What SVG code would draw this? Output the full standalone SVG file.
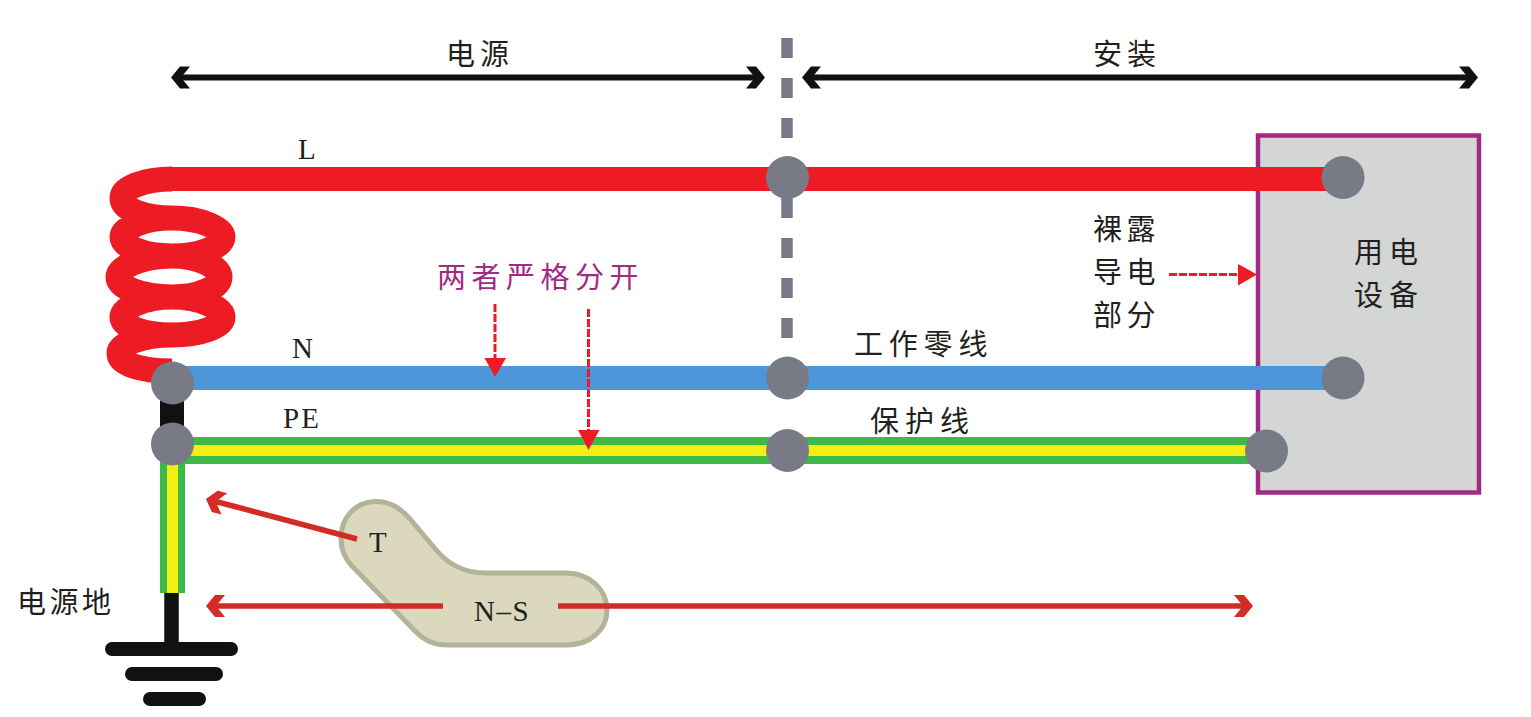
<svg xmlns="http://www.w3.org/2000/svg" width="1531" height="717" viewBox="0 0 1531 717">
<style>
.t{font-family:"Noto Sans CJK SC","Liberation Sans",sans-serif;font-size:29px;fill:#231f20}
.l{font-family:"Liberation Serif",serif;font-size:29px;fill:#231f20}
.dot{fill:#787a85}
.blk{stroke:#111;stroke-width:6;fill:none}
.dash{stroke:#ed1c24;stroke-width:3;fill:none;stroke-dasharray:8 2}
.rd{stroke:#d42b27;stroke-width:5.500;fill:none}
.hb{fill:#111}.hr{fill:#d42b27}.hd{fill:#ed1c24}
</style>
<defs>
<path id="chev" d="M0 0L-9 11L-19 11L-10 0L-19 -11L-9 -11Z"/>
</defs>
<g id="device">
<rect x="1258" y="135.5" width="221" height="357" fill="#d4d5d5" stroke="#a32a82" stroke-width="4.5"/>
<text class="t" x="1354" y="263" letter-spacing="6">用电</text>
<text class="t" x="1354" y="306" letter-spacing="6">设备</text>
</g>
<g id="connectors">
<path id="separator" d="M787 38V338" stroke="#787a85" stroke-width="11.5" stroke-dasharray="20 20" fill="none"/>
<path id="coil" fill="none" stroke="#ed1c24" stroke-width="25" d="M172 179C144 179 122 188 122 198C122 210 145 218 172 218C202 218 223 229 223 237C223 246 202 256 172 256C142 256 122 246 122 237C122 229 142 218 172 218M172 256C140 256 118 268 118 277C118 287 140 297 172 297C200 297 220 287 220 277C220 268 200 256 172 256M172 297C142 297 122 309 122 317C122 326 142 335 172 335C202 335 223 326 223 317C223 309 202 297 172 297M172 335C140 335 119 345 119 353C119 364 140 371 172 371"/>
<path id="wire-L" d="M172 179H1343" stroke="#ed1c24" stroke-width="24" fill="none"/>
<path id="wire-N" d="M172 378H1343" stroke="#4d96d9" stroke-width="24" fill="none"/>
<path id="wire-black" d="M172 383V444" stroke="#111" stroke-width="24" fill="none"/>
<g id="wire-PE" fill="none">
<path d="M172 450.500H1266" stroke="#3db94a" stroke-width="27"/>
<path d="M172 450.500H1266" stroke="#f5ee12" stroke-width="11"/>
</g>
<g id="wire-PE-down" fill="none">
<path d="M172.500 444V593" stroke="#3db94a" stroke-width="25"/>
<path d="M172.500 444V593" stroke="#f5ee12" stroke-width="11"/>
</g>
<path id="wire-ground" d="M171.500 593V646" stroke="#111" stroke-width="14.500" fill="none"/>
</g>
<g id="ground" class="hb">
<rect x="105" y="642" width="133" height="14" rx="7"/>
<rect x="125" y="667" width="98" height="14" rx="7"/>
<rect x="143" y="692" width="63" height="14" rx="7"/>
</g>
<g id="nodes">
<circle id="n1" class="dot" cx="172.500" cy="383" r="21.500"/>
<circle id="n2" class="dot" cx="172.500" cy="444" r="21.500"/>
<circle id="n3" class="dot" cx="787.500" cy="177.500" r="21.500"/>
<circle id="n4" class="dot" cx="787.500" cy="378" r="21.500"/>
<circle id="n5" class="dot" cx="787.500" cy="450.500" r="21.500"/>
<circle id="n6" class="dot" cx="1343" cy="177.500" r="21.500"/>
<circle id="n7" class="dot" cx="1343" cy="378" r="21.500"/>
<circle id="n8" class="dot" cx="1266.500" cy="451" r="21.500"/>
</g>
<g id="blob">
<path fill="#dbd8be" stroke="#b3b39a" stroke-width="5" d="M376 501.500C392 501.500 402 510 410 519L437 551C450 566 466 573 486 573H566C590 573 607 590 607 610C607 630 590 645 566 645H448C432 645 424 640 414 630L352 566C344 558 341 548 341 538C341 517 356 501.500 376 501.500Z"/>
<text class="l" x="369" y="552">T</text>
<text class="l" x="474" y="621" letter-spacing="1.500">N–S</text>
</g>
<g id="range-arrows">
<path class="blk" d="M178 77.500H758M810 77.500H1470"/>
<use href="#chev" class="hb" transform="translate(765 77.500)"/>
<use href="#chev" class="hb" transform="translate(171 77.500) rotate(180)"/>
<use href="#chev" class="hb" transform="translate(802 77.500) rotate(180)"/>
<use href="#chev" class="hb" transform="translate(1478 77.500)"/>
</g>
<g id="red-arrows">
<path class="rd" d="M357 539L214 501"/>
<use href="#chev" class="hr" transform="translate(206 499) rotate(-165)"/>
<path class="rd" d="M443 606H214M558 606H1245"/>
<use href="#chev" class="hr" transform="translate(206 606) rotate(180)"/>
<use href="#chev" class="hr" transform="translate(1253 606)"/>
</g>
<g id="dashed-arrows">
<path class="dash" d="M495 304V358M588.500 309V430M1169 274.500H1238"/>
<path class="hd" d="M484.500 358H506L495 377Z"/>
<path class="hd" d="M578 430H599.500L588.500 450Z"/>
<path class="hd" d="M1238 264L1257 274.500L1238 285.500Z"/>
</g>
<g id="labels">
<text class="t" x="446" y="65" letter-spacing="5">电源</text>
<text class="t" x="1093" y="65" letter-spacing="5">安装</text>
<text class="l" x="298" y="159">L</text>
<text class="l" x="292" y="358">N</text>
<text class="l" x="283" y="428" letter-spacing="2">PE</text>
<text class="t" x="437" y="288" letter-spacing="5.500" style="fill:#a32a82">两者严格分开</text>
<text class="t" x="854" y="355" letter-spacing="5.800">工作零线</text>
<text class="t" x="870" y="432" letter-spacing="6">保护线</text>
<text class="t" x="1093" y="240" letter-spacing="4.500">裸露</text>
<text class="t" x="1093" y="283" letter-spacing="4.500">导电</text>
<text class="t" x="1093" y="326" letter-spacing="4.500">部分</text>
<text class="t" x="17" y="613" letter-spacing="3.500">电源地</text>
</g>
</svg>
